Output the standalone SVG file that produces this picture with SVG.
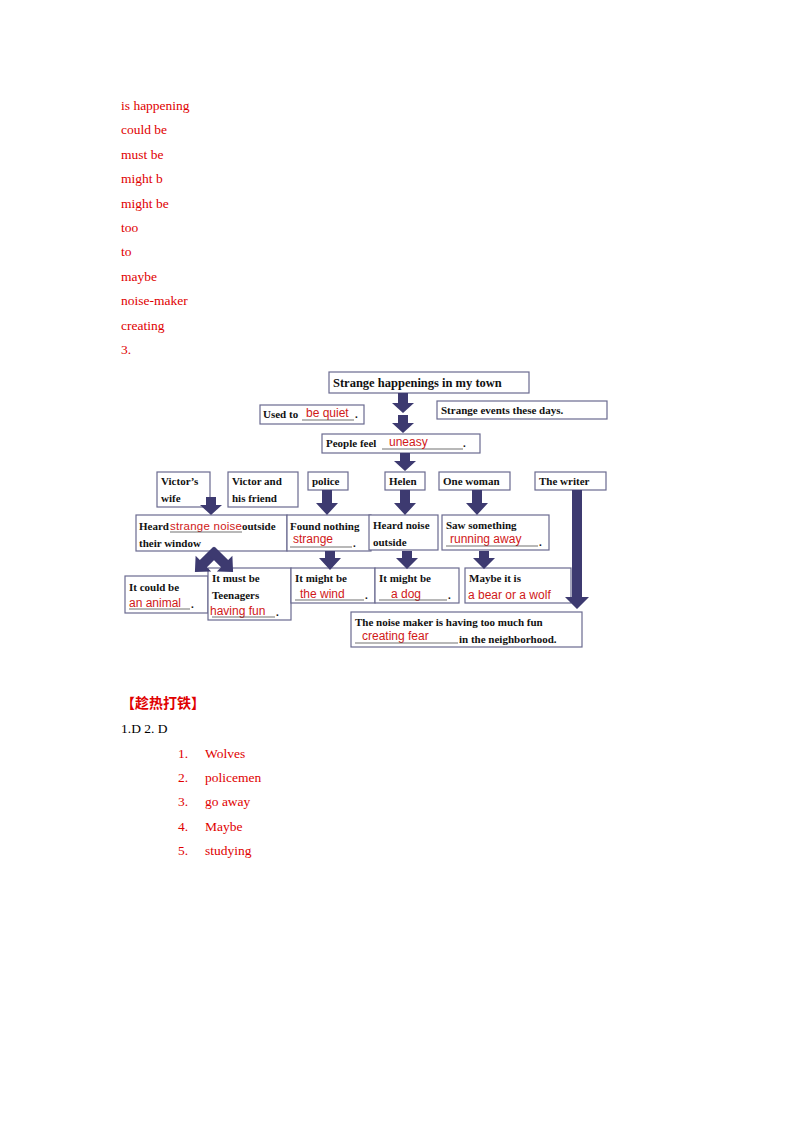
<svg xmlns="http://www.w3.org/2000/svg" width="800" height="1132" viewBox="0 0 800 1132">
<style>
.red{font-family:"Liberation Serif",serif;font-size:13.5px;fill:#e00000}
.blk{font-family:"Liberation Serif",serif;font-size:13.5px;fill:#000}
.b{fill:#fff;stroke:#6a6a90;stroke-width:1.2}
.t{font-family:"Liberation Serif",serif;font-size:11px;font-weight:bold;fill:#111}
.f{font-family:"Liberation Sans",sans-serif;font-size:12px;fill:#d01818}
.u{stroke:#333;stroke-width:0.7}
.a{fill:#3d3a70}
</style>
<g id="answers">
<text class="red" x="121" y="110">is happening</text>
<text class="red" x="121" y="134">could be</text>
<text class="red" x="121" y="159">must be</text>
<text class="red" x="121" y="183">might b</text>
<text class="red" x="121" y="208">might be</text>
<text class="red" x="121" y="232">too</text>
<text class="red" x="121" y="256">to</text>
<text class="red" x="121" y="281">maybe</text>
<text class="red" x="121" y="305">noise-maker</text>
<text class="red" x="121" y="330">creating</text>
<text class="red" x="121" y="354">3.</text>
</g>
<g id="title"><rect class="b" x="329" y="372" width="200" height="21"/><text class="t" x="333" y="387" style="font-size:12.5px">Strange happenings in my town</text></g>
<g id="used"><rect class="b" x="260" y="405" width="104" height="19"/><text class="t" x="263" y="418">Used to</text><line class="u" x1="302" y1="420" x2="354" y2="420"/><text class="f" x="306" y="417">be quiet</text><text class="t" x="355" y="418">.</text></g>
<g id="events"><rect class="b" x="437" y="401" width="170" height="18"/><text class="t" x="441" y="414">Strange events these days.</text></g>
<g id="people"><rect class="b" x="322" y="434" width="158" height="19"/><text class="t" x="326" y="447">People feel</text><line class="u" x1="382" y1="449" x2="463" y2="449"/><text class="f" x="389" y="446">uneasy</text><text class="t" x="463" y="447">.</text></g>
<g id="vwife"><rect class="b" x="157" y="472" width="53" height="35"/><text class="t" x="161" y="485">Victor’s</text><text class="t" x="161" y="502">wife</text></g>
<g id="vfriend"><rect class="b" x="228" y="472" width="70" height="35"/><text class="t" x="232" y="485">Victor and</text><text class="t" x="232" y="502">his friend</text></g>
<g id="police"><rect class="b" x="308" y="472" width="40" height="18"/><text class="t" x="312" y="485">police</text></g>
<g id="helen"><rect class="b" x="385" y="472" width="40" height="18"/><text class="t" x="389" y="485">Helen</text></g>
<g id="woman"><rect class="b" x="439" y="472" width="71" height="18"/><text class="t" x="443" y="485">One woman</text></g>
<g id="writer"><rect class="b" x="535" y="472" width="71" height="18"/><text class="t" x="539" y="485">The writer</text></g>
<g id="heard1"><rect class="b" x="136" y="515" width="151" height="36"/><text class="t" x="139" y="530">Heard</text><text class="f" x="170" y="530" style="font-size:11.5px" textLength="72">strange noise</text><line class="u" x1="170" y1="532" x2="242" y2="532" stroke="#d01818"/><text class="t" x="242" y="530">outside</text><text class="t" x="139" y="547">their window</text></g>
<g id="found"><rect class="b" x="287" y="515" width="84" height="36"/><text class="t" x="290" y="530">Found nothing</text><text class="f" x="293" y="543">strange</text><line class="u" x1="290" y1="547" x2="352" y2="547"/><text class="t" x="353" y="547">.</text></g>
<g id="heard2"><rect class="b" x="369" y="515" width="69" height="35"/><text class="t" x="373" y="529">Heard noise</text><text class="t" x="373" y="546">outside</text></g>
<g id="saw"><rect class="b" x="442" y="515" width="107" height="35"/><text class="t" x="446" y="529">Saw something</text><text class="f" x="450" y="543">running away</text><line class="u" x1="446" y1="546" x2="538" y2="546"/><text class="t" x="539" y="546">.</text></g>
<g id="could"><rect class="b" x="125" y="576" width="83" height="37"/><text class="t" x="129" y="591">It could be</text><text class="f" x="129" y="607">an animal</text><line class="u" x1="129" y1="609" x2="190" y2="609"/><text class="t" x="191" y="608">.</text></g>
<g id="must"><rect class="b" x="208" y="568" width="83" height="52"/><text class="t" x="212" y="582">It must be</text><text class="t" x="212" y="599">Teenagers</text><text class="f" x="210" y="615">having fun</text><line class="u" x1="212" y1="617" x2="275" y2="617"/><text class="t" x="276" y="616">.</text></g>
<g id="wind"><rect class="b" x="291" y="568" width="84" height="35"/><text class="t" x="295" y="582">It might be</text><text class="f" x="300" y="598">the wind</text><line class="u" x1="295" y1="600" x2="364" y2="600"/><text class="t" x="365" y="599">.</text></g>
<g id="dog"><rect class="b" x="375" y="568" width="84" height="35"/><text class="t" x="379" y="582">It might be</text><text class="f" x="391" y="598">a dog</text><line class="u" x1="379" y1="600" x2="447" y2="600"/><text class="t" x="448" y="599">.</text></g>
<g id="maybe"><rect class="b" x="465" y="568" width="106" height="35"/><text class="t" x="469" y="582">Maybe it is</text><text class="f" x="468" y="599">a bear or a wolf</text></g>
<g id="maker"><rect class="b" x="351" y="612" width="231" height="35"/><text class="t" x="355" y="626">The noise maker is having too much fun</text><text class="f" x="362" y="640">creating fear</text><line class="u" x1="355" y1="643" x2="458" y2="643"/><text class="t" x="459" y="643">in the neighborhood.</text></g>
<g id="connectors">
<polygon class="a" points="398,393 408,393 408,403 414,403 403,413 392,403 398,403"/>
<polygon class="a" points="398,415 408,415 408,423 414,423 403,433 392,423 398,423"/>
<polygon class="a" points="400,453 410,453 410,461 416,461 405,471 394,461 400,461"/>
<polygon class="a" points="206,497 216,497 216,505 222,505 211,515 200,505 206,505"/>
<polygon class="a" points="322,490 332,490 332,503 338,503 327,515 316,503 322,503"/>
<polygon class="a" points="400,490 410,490 410,503 416,503 405,515 394,503 400,503"/>
<polygon class="a" points="472,490 482,490 482,503 488,503 477,515 466,503 472,503"/>
<polygon class="a" points="572,490 582,490 582,597 589,597 577,609 565,597 572,597"/>
<polygon class="a" points="325,551 335,551 335,558 341,558 330,570 319,558 325,558"/>
<polygon class="a" points="402,551 412,551 412,558 418,558 407,569 396,558 402,558"/>
<polygon class="a" points="479,551 489,551 489,558 495,558 484,569 473,558 479,558"/>
<polygon class="a" transform="rotate(45 214 553)" points="209,549 219,549 219,568 225,568 214,580 203,568 209,568"/>
<polygon class="a" transform="rotate(-45 214 553)" points="209,549 219,549 219,568 225,568 214,580 203,568 209,568"/>
</g>
<g id="exercise">
<text x="121" y="708" style="font-family:'Liberation Serif','Noto Sans CJK SC',serif;font-size:14px;font-weight:bold;fill:#e00000">【趁热打铁】</text>
<text class="blk" x="121" y="733">1.D 2. D</text>
<text class="red" x="178" y="758">1.</text><text class="red" x="205" y="758">Wolves</text>
<text class="red" x="178" y="782">2.</text><text class="red" x="205" y="782">policemen</text>
<text class="red" x="178" y="806">3.</text><text class="red" x="205" y="806">go away</text>
<text class="red" x="178" y="831">4.</text><text class="red" x="205" y="831">Maybe</text>
<text class="red" x="178" y="855">5.</text><text class="red" x="205" y="855">studying</text>
</g>
</svg>
